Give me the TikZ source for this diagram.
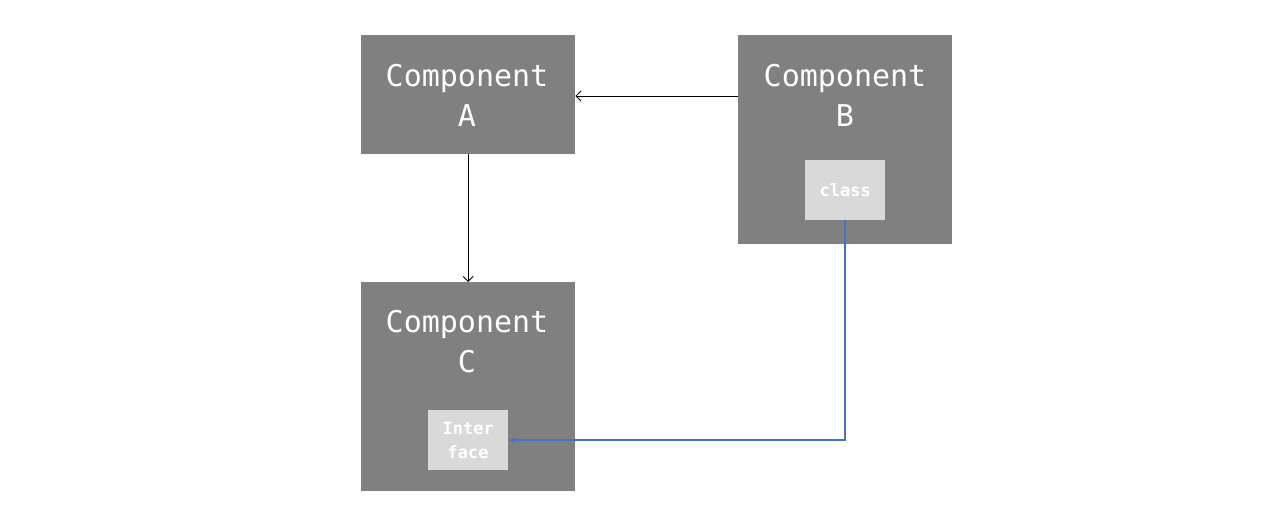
\documentclass[tikz,border=0pt]{standalone}
\usepackage{fontspec}
\setmonofont{DejaVu Sans Mono}
\usetikzlibrary{arrows.meta}
\definecolor{boxgray}{HTML}{808080}
\definecolor{innergray}{HTML}{D9D9D9}
\definecolor{lineblue}{HTML}{4472C4}
\begin{document}
\begin{tikzpicture}[x=1pt,y=-1pt,
  comp/.style={fill=boxgray, draw=none, inner sep=0pt, anchor=north west},
  inner/.style={fill=innergray, draw=none, inner sep=0pt, anchor=north west},
  bigtxt/.style={text=white, font=\ttfamily\fontsize{30}{40}\selectfont, align=center, anchor=center},
  smalltxt/.style={text=white, font=\ttfamily\bfseries\fontsize{17}{24}\selectfont, align=center, anchor=center},
  blk/.style={draw=black, line width=0.9pt, -{Straight Barb[length=5pt,width=10pt,line width=0.9pt]}},
  blu/.style={draw=lineblue, line width=2.4pt, -{Latex[length=6pt,width=6pt]}}]
\useasboundingbox (0,0) rectangle (1280,522);
\node[comp, minimum width=214pt, minimum height=119pt] (A) at (361,35) {};
\node[comp, minimum width=214pt, minimum height=209pt] (B) at (738,35) {};
\node[comp, minimum width=214pt, minimum height=209pt] (C) at (361,282) {};
\node[inner, minimum width=80pt, minimum height=60pt] (cls) at (805,160) {};
\node[inner, minimum width=80pt, minimum height=60pt] (itf) at (428,410) {};
\node[bigtxt] (At) at (467,95) {Component\\A};
\node[bigtxt] (Bt) at (845,95) {Component\\B};
\node[bigtxt] (Ct) at (467,342) {Component\\C};
\node[smalltxt] (clst) at (cls.center) {class};
\node[smalltxt] (itft) at (itf.center) {Inter\\face};
\coordinate (bA) at (B.west |- 0,96);
\coordinate (aA) at (A.east |- 0,96);
\draw[blk] (bA) -- (aA);
\draw[blk] (A.south) -- (C.north);
\coordinate (corner) at (cls.south |- itf.east);
\draw[blu] (cls.south) -- (corner) -- (itf.east);
\end{tikzpicture}
\end{document}
